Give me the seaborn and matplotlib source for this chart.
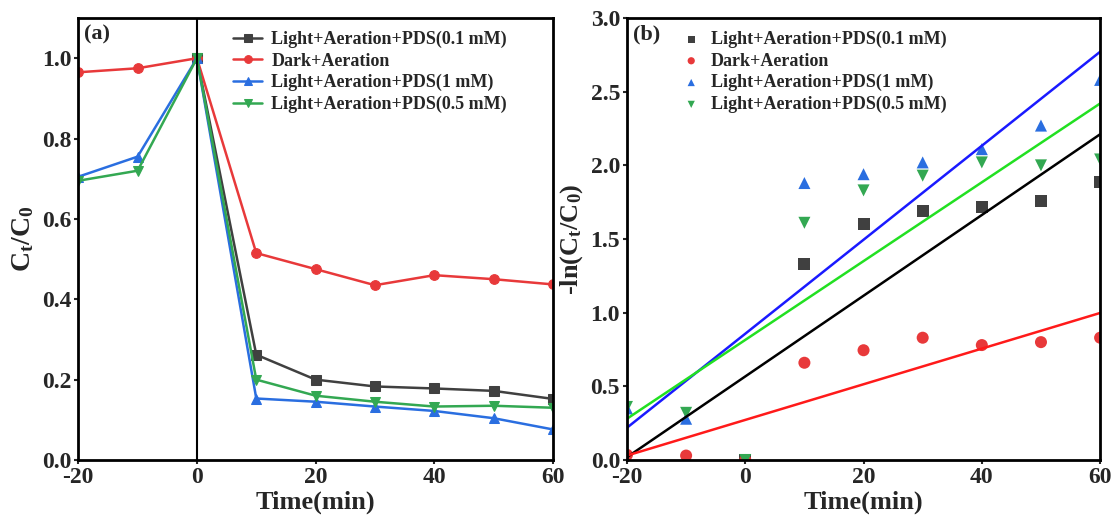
import numpy as np
import pandas as pd
import matplotlib
matplotlib.use("Agg")
import matplotlib.pyplot as plt
import seaborn as sns

# Series labels and colours
labels = ["Light+Aeration+PDS(0.1 mM)", "Dark+Aeration",
          "Light+Aeration+PDS(1 mM)", "Light+Aeration+PDS(0.5 mM)"]
colors = ["#404040", "#e8393a", "#2a6ee0", "#33a852"]
fit_colors = ["#000000", "#ff1a1a", "#1a1aff", "#22e022"]
markers_a = ["s", "o", "^", "v"]

# (a) Ct/C0 vs time
t_gray = [0, 10, 20, 30, 40, 50, 60]
c_gray = [1.0, 0.262, 0.200, 0.183, 0.178, 0.172, 0.152]
t_full = [-20, -10, 0, 10, 20, 30, 40, 50, 60]
c_red = [0.965, 0.975, 1.0, 0.515, 0.475, 0.435, 0.460, 0.450, 0.437]
c_blue = [0.705, 0.755, 1.0, 0.153, 0.145, 0.133, 0.122, 0.104, 0.076]
c_green = [0.695, 0.720, 1.0, 0.200, 0.160, 0.145, 0.133, 0.135, 0.130]

# (b) -ln(Ct/C0) vs time
k_gray = [0.0, 1.33, 1.60, 1.69, 1.72, 1.76, 1.89]
k_red = [0.035, 0.03, 0.0, 0.66, 0.745, 0.83, 0.78, 0.80, 0.83]
k_blue = [0.35, 0.28, 0.0, 1.88, 1.94, 2.02, 2.11, 2.27, 2.58]
k_green = [0.36, 0.32, 0.0, 1.61, 1.83, 1.93, 2.02, 2.00, 2.04]

# linear fit parameters (slope, intercept)
fit_slope = [0.0274, 0.0121, 0.0319, 0.02675]
fit_intercept = [0.567, 0.272, 0.857, 0.815]
fit_x = [-20, 60]

sns.set_style("ticks")
plt.rcParams["font.family"] = ["Liberation Serif", "DejaVu Serif"]
plt.rcParams["font.weight"] = "bold"
plt.rcParams["axes.unicode_minus"] = False
plt.rcParams["mathtext.fontset"] = "custom"
plt.rcParams["mathtext.rm"] = "Liberation Serif:bold"
plt.rcParams["mathtext.it"] = "Liberation Serif:bold"
plt.rcParams["mathtext.default"] = "rm"

fig = plt.figure(figsize=(11.18, 5.23), dpi=100)
ax1 = fig.add_axes([0.070, 0.1205, 0.4246, 0.845])
ax2 = fig.add_axes([0.5608, 0.1205, 0.4232, 0.845])

times_a = [t_gray, t_full, t_full, t_full]
vals_a = [c_gray, c_red, c_blue, c_green]
for t, v, lab, col, mk in zip(times_a, vals_a, labels, colors, markers_a):
    sns.lineplot(x=t, y=v, ax=ax1, color=col, marker=mk, markersize=7,
                 markeredgecolor=col, linewidth=1.8, label=lab)
ax1.axvline(0, color="black", linewidth=1.5)

times_b = [t_gray, t_full, t_full, t_full]
vals_b = [k_gray, k_red, k_blue, k_green]
for i in range(4):
    sns.scatterplot(x=times_b[i], y=vals_b[i], ax=ax2, color=colors[i],
                    marker=markers_a[i], s=75, edgecolor="none", label=labels[i])
for i in range(4):
    fy = [fit_slope[i] * x + fit_intercept[i] for x in fit_x]
    sns.lineplot(x=fit_x, y=fy, ax=ax2, color=fit_colors[i], linewidth=1.8,
                 legend=False)

for ax in (ax1, ax2):
    ax.set_xlim(-20, 60)
    ax.set_xticks([-20, 0, 20, 40, 60])
    ax.tick_params(direction="out", length=3, width=1.5, labelsize=17, pad=2)
    for s in ax.spines.values():
        s.set_linewidth(2)
        s.set_color("black")
    ax.set_xlabel("Time(min)", fontsize=19, fontweight="bold", labelpad=2)
    for lbl in ax.get_xticklabels() + ax.get_yticklabels():
        lbl.set_fontweight("bold")

ax1.set_ylim(0, 1.1)
ax1.set_yticks([0.0, 0.2, 0.4, 0.6, 0.8, 1.0])
ax1.set_yticklabels(["0.0", "0.2", "0.4", "0.6", "0.8", "1.0"], fontweight="bold")
ax1.set_ylabel("C$_t$/C$_0$", fontsize=20, fontweight="bold", labelpad=4)
ax1.text(0.012, 0.985, "(a)", transform=ax1.transAxes, fontsize=16,
         fontweight="bold", va="top", ha="left")
ax1.legend(loc="upper left", bbox_to_anchor=(0.3, 1.0), frameon=False,
           prop={"size": 13, "weight": "bold"}, handlelength=1.6,
           handletextpad=0.5, labelspacing=0.25, borderaxespad=0.3,
           markerscale=0.8)

ax2.set_ylim(0, 3.0)
ax2.set_yticks([0.0, 0.5, 1.0, 1.5, 2.0, 2.5, 3.0])
ax2.set_yticklabels(["0.0", "0.5", "1.0", "1.5", "2.0", "2.5", "3.0"], fontweight="bold")
ax2.set_ylabel("-ln(C$_t$/C$_0$)", fontsize=19, fontweight="bold", labelpad=4)
ax2.text(0.012, 0.985, "(b)", transform=ax2.transAxes, fontsize=16,
         fontweight="bold", va="top", ha="left")
ax2.legend(loc="upper left", bbox_to_anchor=(0.09, 1.0), frameon=False,
           prop={"size": 13, "weight": "bold"}, handlelength=1.0,
           handletextpad=0.6, labelspacing=0.25, borderaxespad=0.3,
           markerscale=0.6)

fig.savefig("out.png", dpi=100)
